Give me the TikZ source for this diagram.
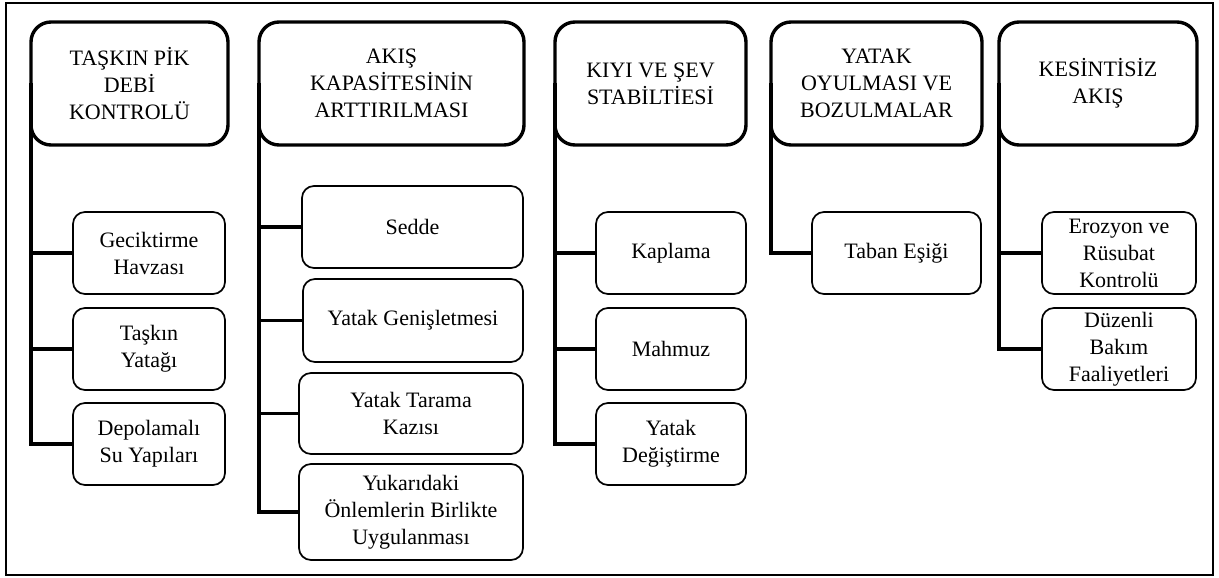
\documentclass[tikz,border=0pt]{standalone}
\usepackage{fontspec}
\setmainfont{Liberation Serif}

\tikzset{
	baslik/.style={draw, rounded corners=20pt, line width=3.4pt, inner sep=0pt, outer sep=0pt,
		align=center, font=\fontsize{22}{27}\selectfont},
	kutu/.style={draw, rounded corners=12pt, line width=1.7pt, inner sep=0pt, outer sep=0pt,
		align=center, font=\fontsize{22}{27}\selectfont},
	kol/.style={line width=3.4pt, to path={|- (\tikztotarget)}}
}

\begin{document}
\begin{tikzpicture}[x=1pt,y=-1pt]
		\useasboundingbox (0,0) rectangle (1219,578);
		\draw [line width=2pt] (6,3) rectangle (1213,575);

		% basliklar
		\draw (129.5,83.5) node [baslik, minimum width=197pt, minimum height=123pt] (h1) {TAŞKIN PİK\\DEBİ\\KONTROLÜ};
		\draw (391.5,83.5) node [baslik, minimum width=265pt, minimum height=123pt] (h2) {AKIŞ\\KAPASİTESİNİN\\ARTTIRILMASI};
		\draw (650.5,83.5) node [baslik, minimum width=191pt, minimum height=123pt] (h3) {KIYI VE ŞEV\\STABİLTİESİ};
		\draw (876.5,83.5) node [baslik, minimum width=211pt, minimum height=123pt] (h4) {YATAK\\OYULMASI VE\\BOZULMALAR};
		\draw (1098,83.5) node [baslik, minimum width=198pt, minimum height=123pt] (h5) {KESİNTİSİZ\\AKIŞ};

		% alt kutular
		\draw (149,253) node [kutu, minimum width=152pt, minimum height=82pt] (a1) {Geciktirme\\Havzası};
		\draw (149,349) node [kutu, minimum width=152pt, minimum height=82pt] (a2) {Taşkın\\Yatağı};
		\draw (149,444) node [kutu, minimum width=152pt, minimum height=82pt] (a3) {Depolamalı\\Su Yapıları};

		\draw (412.5,227) node [kutu, minimum width=221pt, minimum height=82pt] (b1) {Sedde};
		\draw (413,320.5) node [kutu, minimum width=220pt, minimum height=83pt] (b2) {Yatak Genişletmesi};
		\draw (411,413.5) node [kutu, minimum width=224pt, minimum height=81pt] (b3) {Yatak Tarama\\Kazısı};
		\draw (411,512) node [kutu, minimum width=224pt, minimum height=96pt] (b4) {Yukarıdaki\\Önlemlerin Birlikte\\Uygulanması};

		\draw (671,253) node [kutu, minimum width=150pt, minimum height=82pt] (c1) {Kaplama};
		\draw (671,349) node [kutu, minimum width=150pt, minimum height=82pt] (c2) {Mahmuz};
		\draw (671,444) node [kutu, minimum width=150pt, minimum height=82pt] (c3) {Yatak\\Değiştirme};

		\draw (896.5,253) node [kutu, minimum width=169pt, minimum height=82pt] (d1) {Taban Eşiği};

		\draw (1119,253) node [kutu, minimum width=154pt, minimum height=82pt] (e1) {Erozyon ve\\Rüsubat\\Kontrolü};
		\draw (1119,349) node [kutu, minimum width=154pt, minimum height=82pt] (e2) {Düzenli\\Bakım\\Faaliyetleri};

		\draw
			(h1.west) edge [kol] (a1.west)
			(h1.west) edge [kol] (a2.west)
			(h1.west) edge [kol] (a3.west)
			(h2.west) edge [kol] (b1.west)
			(h2.west) edge [kol] (b2.west)
			(h2.west) edge [kol] (b3.west)
			(h2.west) edge [kol] (b4.west)
			(h3.west) edge [kol] (c1.west)
			(h3.west) edge [kol] (c2.west)
			(h3.west) edge [kol] (c3.west)
			(h4.west) edge [kol] (d1.west)
			(h5.west) edge [kol] (e1.west)
			(h5.west) edge [kol] (e2.west)
		;
	\end{tikzpicture}
\end{document}
